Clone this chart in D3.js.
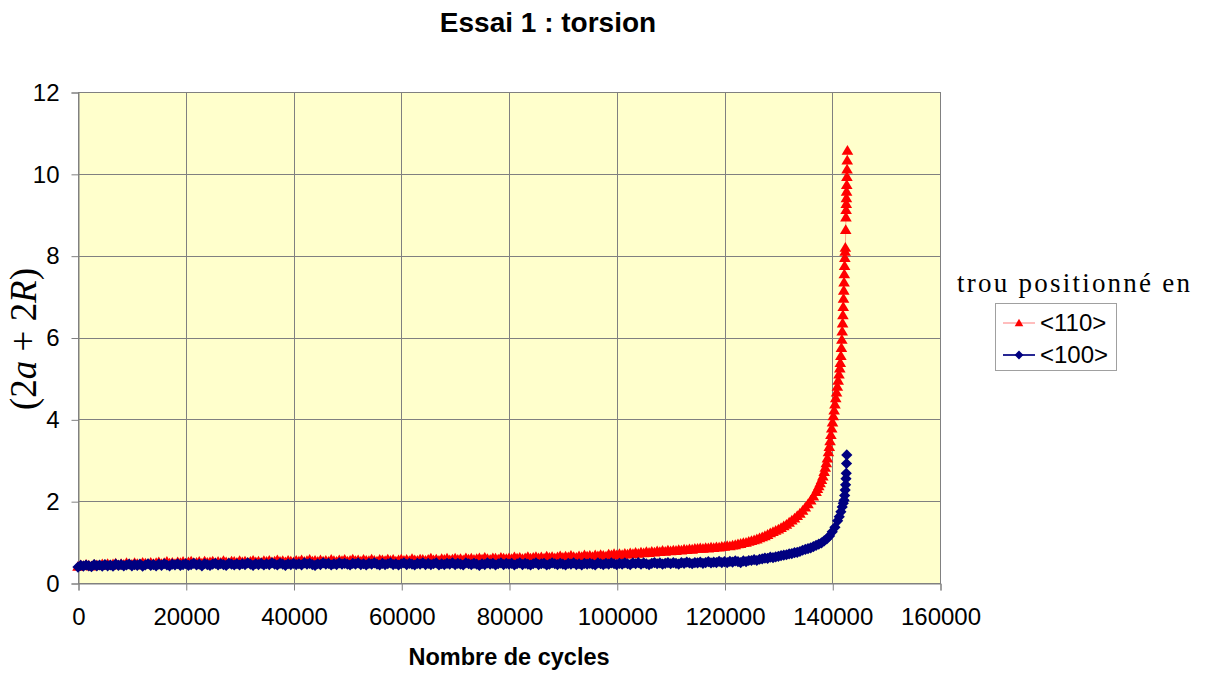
<!DOCTYPE html>
<html><head><meta charset="utf-8">
<script src="https://cdn.jsdelivr.net/npm/d3@7"></script>
<style>
html,body{margin:0;padding:0;background:#fff;}
svg{display:block;}
</style></head>
<body>
<svg id="chart" width="1208" height="675"></svg>
<script>
// ---------------- DATA ----------------
const chartTitle = "Essai 1 : torsion";
const xTitle = "Nombre de cycles";
const legendTitle = "trou positionné en";
const seriesNames = ["<110>", "<100>"];
const xTicks = [0, 20000, 40000, 60000, 80000, 100000, 120000, 140000, 160000];
const yTicks = [0, 2, 4, 6, 8, 10, 12];

// cycles shared by both series (0 .. 136500)
const cyclesCommon = [
 0,500,1000,1500,2000,2500,3000,3500,4000,4500,
 5000,5500,6000,6500,7000,7500,8000,8500,9000,9500,
 10000,10500,11000,11500,12000,12500,13000,13500,14000,14500,
 15000,15500,16000,16500,17000,17500,18000,18500,19000,19500,
 20000,20500,21000,21500,22000,22500,23000,23500,24000,24500,
 25000,25500,26000,26500,27000,27500,28000,28500,29000,29500,
 30000,30500,31000,31500,32000,32500,33000,33500,34000,34500,
 35000,35500,36000,36500,37000,37500,38000,38500,39000,39500,
 40000,40500,41000,41500,42000,42500,43000,43500,44000,44500,
 45000,45500,46000,46500,47000,47500,48000,48500,49000,49500,
 50000,50500,51000,51500,52000,52500,53000,53500,54000,54500,
 55000,55500,56000,56500,57000,57500,58000,58500,59000,59500,
 60000,60500,61000,61500,62000,62500,63000,63500,64000,64500,
 65000,65500,66000,66500,67000,67500,68000,68500,69000,69500,
 70000,70500,71000,71500,72000,72500,73000,73500,74000,74500,
 75000,75500,76000,76500,77000,77500,78000,78500,79000,79500,
 80000,80500,81000,81500,82000,82500,83000,83500,84000,84500,
 85000,85500,86000,86500,87000,87500,88000,88500,89000,89500,
 90000,90500,91000,91500,92000,92500,93000,93500,94000,94500,
 95000,95500,96000,96500,97000,97500,98000,98500,99000,99500,
 100000,100500,101000,101500,102000,102500,103000,103500,104000,104500,
 105000,105500,106000,106500,107000,107500,108000,108500,109000,109500,
 110000,110500,111000,111500,112000,112500,113000,113500,114000,114500,
 115000,115500,116000,116500,117000,117500,118000,118500,119000,119500,
 120000,120500,121000,121500,122000,122500,123000,123500,124000,124500,
 125000,125500,126000,126500,127000,127500,128000,128500,129000,129500,
 130000,130500,131000,131500,132000,132500,133000,133500,134000,134500,
 135000,135500,136000,136500
];

// <110> (red triangles)
const values110Common = [
 0.40,0.44,0.42,0.45,0.43,0.41,0.45,0.44,0.42,0.46,
 0.44,0.47,0.43,0.46,0.48,0.44,0.47,0.45,0.49,0.46,
 0.45,0.49,0.47,0.44,0.50,0.48,0.46,0.50,0.47,0.49,
 0.51,0.47,0.49,0.52,0.48,0.50,0.47,0.51,0.49,0.52,
 0.48,0.51,0.53,0.49,0.50,0.52,0.48,0.53,0.50,0.51,
 0.53,0.49,0.52,0.50,0.54,0.51,0.49,0.53,0.52,0.50,
 0.54,0.51,0.53,0.50,0.52,0.55,0.51,0.53,0.50,0.54,
 0.52,0.55,0.51,0.53,0.56,0.52,0.54,0.51,0.55,0.53,
 0.51,0.55,0.53,0.56,0.52,0.54,0.57,0.53,0.55,0.52,
 0.56,0.53,0.55,0.52,0.57,0.54,0.52,0.56,0.54,0.57,
 0.53,0.55,0.58,0.54,0.56,0.53,0.57,0.55,0.54,0.58,
 0.55,0.53,0.57,0.56,0.54,0.58,0.55,0.57,0.53,0.56,
 0.58,0.55,0.57,0.54,0.59,0.56,0.55,0.58,0.57,0.55,
 0.57,0.60,0.56,0.58,0.55,0.59,0.57,0.60,0.56,0.58,
 0.60,0.57,0.59,0.56,0.61,0.58,0.60,0.57,0.59,0.61,
 0.58,0.62,0.59,0.57,0.61,0.60,0.58,0.62,0.60,0.59,
 0.61,0.59,0.63,0.60,0.62,0.59,0.61,0.64,0.60,0.62,
 0.64,0.61,0.63,0.60,0.65,0.62,0.64,0.61,0.63,0.66,
 0.62,0.65,0.63,0.67,0.64,0.62,0.66,0.64,0.68,0.65,
 0.67,0.64,0.68,0.66,0.69,0.67,0.65,0.70,0.68,0.71,
 0.68,0.71,0.69,0.72,0.70,0.73,0.71,0.74,0.72,0.75,
 0.73,0.76,0.74,0.77,0.75,0.78,0.76,0.79,0.77,0.80,
 0.78,0.80,0.79,0.81,0.80,0.82,0.81,0.83,0.82,0.84,
 0.84,0.85,0.84,0.86,0.85,0.87,0.86,0.88,0.87,0.89,
 0.89,0.91,0.90,0.92,0.93,0.95,0.96,0.98,0.99,1.01,
 1.03,1.05,1.07,1.10,1.12,1.15,1.18,1.22,1.25,1.28,
 1.31,1.35,1.39,1.43,1.48,1.53,1.58,1.64,1.70,1.77,
 1.85,1.93,2.02,2.12
];
const cycles110Tail = [
 137000,137250,137500,137750,138000,138250,138500,138700,138900,139100,
 139300,139450,139600,139750,139900,140050,140200,140350,140500,140650,
 140800,140950,141100,141250,141400,141500,141600,141700,141780,141850,
 141920,141980,142040,142090,142140,142190,142240,142290,142340,142390,
 142430,142500,142540,142570,142600,142630,142660,142690,142720,142750,
 142780,142820
];
const values110Tail = [
 2.23,2.30,2.37,2.44,2.52,2.61,2.72,2.82,2.93,3.05,
 3.20,3.33,3.47,3.62,3.78,3.93,4.08,4.22,4.37,4.52,
 4.66,4.80,4.95,5.10,5.25,5.38,5.55,5.75,5.95,6.15,
 6.35,6.55,6.75,6.95,7.15,7.35,7.55,7.75,7.95,8.10,
 8.20,8.63,8.94,9.12,9.27,9.41,9.57,9.73,9.93,10.11,
 10.33,10.57
];

// <100> (navy diamonds)
const values100Common = [
 0.39,0.43,0.41,0.44,0.42,0.40,0.45,0.42,0.44,0.41,
 0.45,0.42,0.44,0.41,0.46,0.43,0.45,0.42,0.44,0.46,
 0.42,0.45,0.43,0.46,0.41,0.44,0.47,0.43,0.45,0.42,
 0.46,0.43,0.47,0.44,0.42,0.46,0.44,0.47,0.43,0.45,
 0.47,0.43,0.45,0.48,0.44,0.46,0.42,0.47,0.45,0.43,
 0.46,0.48,0.44,0.47,0.45,0.43,0.48,0.46,0.44,0.47,
 0.44,0.47,0.45,0.49,0.46,0.43,0.47,0.45,0.48,0.44,
 0.47,0.45,0.49,0.46,0.44,0.48,0.46,0.43,0.47,0.45,
 0.48,0.45,0.47,0.44,0.49,0.46,0.48,0.45,0.43,0.47,
 0.45,0.49,0.46,0.48,0.44,0.47,0.45,0.49,0.46,0.48,
 0.46,0.44,0.48,0.46,0.49,0.45,0.47,0.44,0.48,0.46,
 0.49,0.46,0.44,0.48,0.45,0.47,0.49,0.45,0.47,0.44,
 0.47,0.49,0.45,0.48,0.46,0.44,0.48,0.46,0.49,0.45,
 0.48,0.45,0.47,0.49,0.44,0.47,0.45,0.48,0.46,0.49,
 0.45,0.48,0.46,0.44,0.49,0.47,0.45,0.48,0.46,0.43,
 0.47,0.45,0.49,0.46,0.48,0.44,0.47,0.49,0.45,0.48,
 0.46,0.48,0.44,0.47,0.49,0.45,0.48,0.46,0.44,0.47,
 0.49,0.45,0.47,0.48,0.44,0.46,0.49,0.47,0.45,0.48,
 0.46,0.44,0.48,0.46,0.49,0.45,0.47,0.44,0.48,0.46,
 0.48,0.46,0.44,0.49,0.47,0.45,0.48,0.46,0.49,0.47,
 0.45,0.48,0.46,0.49,0.47,0.45,0.49,0.47,0.50,0.46,
 0.49,0.47,0.45,0.48,0.50,0.47,0.49,0.46,0.48,0.50,
 0.47,0.50,0.48,0.46,0.50,0.48,0.51,0.49,0.47,0.50,
 0.49,0.51,0.48,0.50,0.52,0.49,0.51,0.50,0.53,0.50,
 0.52,0.50,0.53,0.51,0.54,0.52,0.50,0.54,0.52,0.55,
 0.55,0.57,0.55,0.58,0.59,0.61,0.60,0.63,0.62,0.64,
 0.65,0.67,0.68,0.69,0.71,0.72,0.74,0.75,0.77,0.80,
 0.82,0.84,0.86,0.89
];
const cycles100Tail = [
 137000,137500,138000,138500,139000,139500,140000,140500,141000,141300,
 141600,141850,142050,142200,142300,142400,142480,142550,142600,142650,
 142700
];
const values100Tail = [
 0.92,0.95,0.98,1.03,1.08,1.15,1.25,1.36,1.52,1.62,
 1.74,1.86,1.95,2.02,2.14,2.27,2.40,2.55,2.68,2.92,
 3.13
];

// ---------------- DRAWING ----------------
const svg = d3.select("#chart");
const m = {left: 78, right: 940, top: 92, bottom: 583};
const x = d3.scaleLinear().domain([0, 160000]).range([m.left, m.right]);
const y = d3.scaleLinear().domain([0, 12]).range([m.bottom, m.top]);
const gridCol = "#808080";
const redCol = "#ff0000", navyCol = "#000080";
const triPath = "M0,-5.6L5.8,4.2L-5.8,4.2Z";
const diaPath = "M0,-5.6L5.6,0L0,5.6L-5.6,0Z";
const triLegend = "M0,-4.3L4.3,3.3L-4.3,3.3Z";
const diaLegend = "M0,-4.4L4.4,0L0,4.4L-4.4,0Z";

// plot area
svg.append("rect").attr("x", m.left).attr("y", m.top)
  .attr("width", m.right - m.left).attr("height", m.bottom - m.top)
  .attr("fill", "#ffffcc");

// gridlines
svg.append("g").selectAll("line").data(yTicks).join("line")
  .attr("x1", m.left).attr("x2", m.right)
  .attr("y1", d => Math.round(y(d)) + 0.5).attr("y2", d => Math.round(y(d)) + 0.5)
  .attr("stroke", gridCol).attr("stroke-width", 1);
svg.append("g").selectAll("line").data(xTicks).join("line")
  .attr("y1", m.top).attr("y2", m.bottom)
  .attr("x1", d => Math.round(x(d)) + 0.5).attr("x2", d => Math.round(x(d)) + 0.5)
  .attr("stroke", gridCol).attr("stroke-width", 1);
svg.append("rect").attr("x", m.left + 0.5).attr("y", m.top + 0.5)
  .attr("width", m.right - m.left).attr("height", m.bottom - m.top)
  .attr("fill", "none").attr("stroke", gridCol);

// axes
const xAxis = d3.axisBottom(x).tickValues(xTicks).tickSize(7).tickPadding(17).tickFormat(d3.format("d"));
const gx = svg.append("g").attr("transform", `translate(0.5,${m.bottom + 0.5})`).call(xAxis);
const yAxis = d3.axisLeft(y).tickValues(yTicks).tickSize(7).tickPadding(12).tickFormat(d3.format("d"));
const gy = svg.append("g").attr("transform", `translate(${m.left + 0.5},0.5)`).call(yAxis);
[gx, gy].forEach(g => {
  g.select(".domain").attr("stroke", gridCol);
  g.selectAll(".tick line").attr("stroke", gridCol);
  g.selectAll(".tick text").attr("fill", "#000")
    .style("font-family", "'Liberation Sans', Arial, sans-serif").style("font-size", "24px");
});
gx.selectAll(".tick text").attr("dy", "0.71em");

// series
const series = [
  {name: seriesNames[0], xs: cyclesCommon.concat(cycles110Tail), ys: values110Common.concat(values110Tail),
   col: redCol, path: triPath, lpath: triLegend, lineOp: 0.35, lw: 1},
  {name: seriesNames[1], xs: cyclesCommon.concat(cycles100Tail), ys: values100Common.concat(values100Tail),
   col: navyCol, path: diaPath, lpath: diaLegend, lineOp: 1, lw: 1.2}
];
const plotG = svg.append("g");
series.forEach(s => {
  const pts = s.xs.map((c, i) => [c, s.ys[i]]);
  plotG.append("path").datum(pts)
    .attr("d", d3.line().x(d => x(d[0])).y(d => y(d[1])))
    .attr("fill", "none").attr("stroke", s.col).attr("stroke-opacity", s.lineOp).attr("stroke-width", s.lw);
  plotG.append("g").selectAll("path").data(pts).join("path")
    .attr("d", s.path)
    .attr("transform", d => `translate(${x(d[0])},${y(d[1])})`)
    .attr("fill", s.col);
});

// title
svg.append("text").attr("x", 548).attr("y", 32).attr("text-anchor", "middle")
  .style("font-family", "'Liberation Sans', Arial, sans-serif").style("font-size", "28px").style("font-weight", "bold")
  .text(chartTitle);

// x axis title
svg.append("text").attr("x", 509).attr("y", 665).attr("text-anchor", "middle")
  .style("font-family", "'Liberation Sans', Arial, sans-serif").style("font-size", "23.5px").style("font-weight", "bold")
  .text(xTitle);

// y axis title (math style)
const yt = svg.append("text").attr("transform", "translate(36,339) rotate(-90)")
  .attr("text-anchor", "middle")
  .style("font-family", "'Liberation Serif', 'Times New Roman', serif").style("font-size", "37px");
yt.append("tspan").text("(2");
yt.append("tspan").style("font-style", "italic").text("a");
yt.append("tspan").text("\u00A0+\u00A02");
yt.append("tspan").style("font-style", "italic").text("R");
yt.append("tspan").text(")");

// legend
svg.append("text").attr("x", 957).attr("y", 292)
  .attr("textLength", 233).attr("lengthAdjust", "spacing")
  .style("font-family", "'Liberation Serif', 'Times New Roman', serif").style("font-size", "27px")
  .text(legendTitle);
const lg = svg.append("g");
lg.append("rect").attr("x", 995.5).attr("y", 303.5).attr("width", 121).attr("height", 67)
  .attr("fill", "#fff").attr("stroke", "#a0a0a0");
series.forEach((s, i) => {
  const cy = 323 + i * 32;
  lg.append("line").attr("x1", 1003).attr("x2", 1035).attr("y1", cy).attr("y2", cy)
    .attr("stroke", s.col).attr("stroke-opacity", s.lineOp).attr("stroke-width", s.lw + 0.5);
  lg.append("path").attr("d", s.lpath).attr("transform", `translate(1019,${cy})`).attr("fill", s.col);
  lg.append("text").attr("x", 1040).attr("y", cy).attr("dy", "0.35em")
    .style("font-family", "'Liberation Sans', Arial, sans-serif").style("font-size", "24px")
    .text(s.name);
});
</script>
</body></html>
